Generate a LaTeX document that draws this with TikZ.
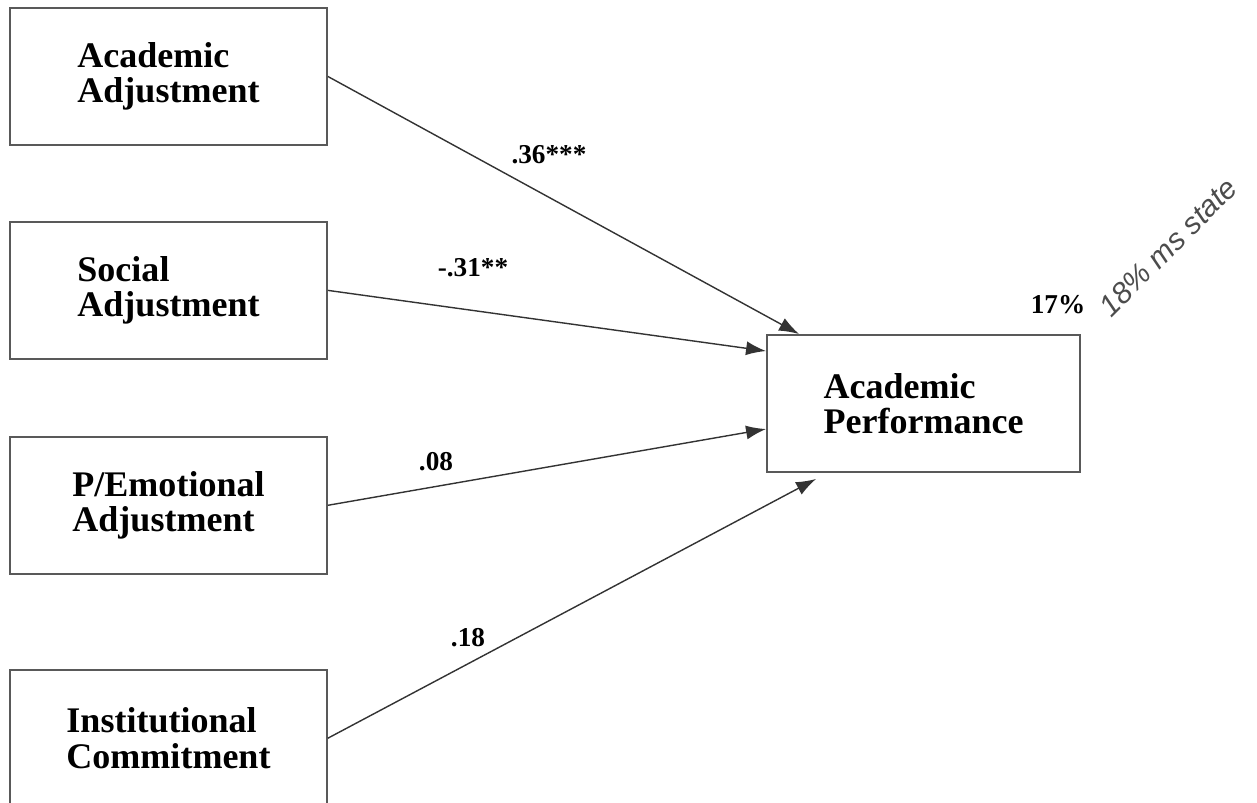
\documentclass[tikz,border=0pt]{standalone}
\usepackage{fontspec}
\setmainfont{Liberation Serif}
\newfontfamily\handfont{Liberation Sans}
\usetikzlibrary{positioning,arrows.meta}
\newcommand{\varfont}{\fontsize{20.5}{20}\selectfont\bfseries}
\newcommand{\coeffont}{\fontsize{15.5}{16}\selectfont\bfseries}
\tikzset{
  var/.style    = {draw=black!65, line width=1.1pt, align=left,
                   minimum width=6.34cm, minimum height=2.74cm,
                   font=\varfont, inner sep=0pt},
  path/.style   = {-{Latex[length=4mm,width=2.8mm]}, line width=0.8pt, draw=black!80},
  coef/.style   = {font=\coeffont, inner sep=1pt},
  note/.style   = {font=\handfont\itshape\fontsize{17}{17}\selectfont, text=black!70}
}

\begin{document}
\begin{tikzpicture}[x=0.02cm, y=-0.02cm]
  \useasboundingbox (0,0) rectangle (1257,803);

  % Predictors
  \node[var]                       (AA) at (168.5,76.5) {Academic\\Adjustment};
  \node[var, below=1.5cm of AA]    (SA) {Social\\Adjustment};
  \node[var, below=1.52cm of SA]   (PE) {P/Emotional\\Adjustment};
  \node[var, below=1.88cm of PE]   (IC) {Institutional\\Commitment};

  % Outcome
  \node[var, minimum width=6.26cm] (AP) at (923.5,403.5) {Academic\\Performance};

  % Paths
  \draw[path] (AA.east) -- ([xshift=0.66cm]AP.north west);
  \draw[path] (SA.east) -- ([yshift=-0.34cm]AP.north west);
  \draw[path] (PE.east) -- ([yshift=-1.9cm]AP.north west);
  \draw[path] (IC.east) -- ([xshift=1.0cm, yshift=-0.12cm]AP.south west);

  % Coefficients
  \node[coef] (b1) at (549,155) {.36***};
  \node[coef] (b2) at (473,268) {-.31**};
  \node[coef] (b3) at (436,462) {.08};
  \node[coef] (b4) at (468,638) {.18};
  \node[coef] (r2) at (1058,305) {17\%};

  % handwritten remark
  \node[note, rotate=45] (hw) at (1168,247) {18\% ms state};
\end{tikzpicture}
\end{document}
